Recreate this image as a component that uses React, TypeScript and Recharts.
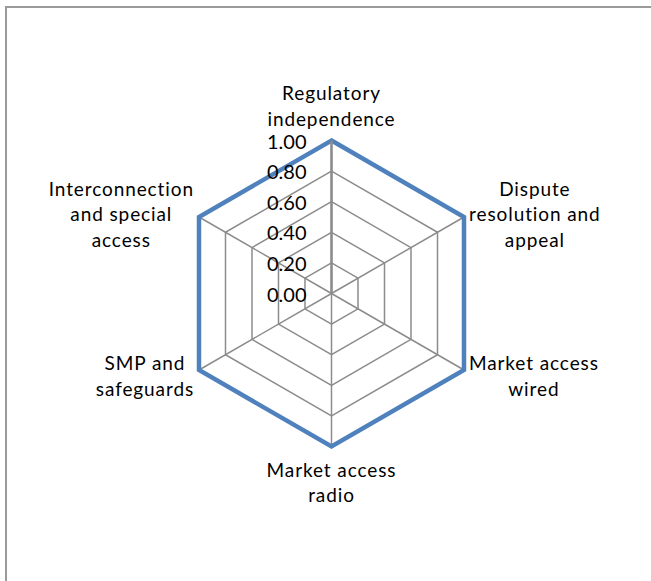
import { RadarChart, Radar, PolarGrid, PolarAngleAxis, PolarRadiusAxis } from "recharts"

// axis categories, line breaks as in the original
const categories = [
  "Regulatory\nindependence",
  "Dispute\nresolution and\nappeal",
  "Market access\nwired",
  "Market access\nradio",
  "SMP and\nsafeguards",
  "Interconnection\nand special\naccess",
]
const scores = [1, 1, 1, 1, 1, 1]
const radiusTicks = [0, 0.2, 0.4, 0.6, 0.8, 1]

const data = categories.map((name, i) => ({ name, value: scores[i] }))

const CX = 331.5
const CY = 293.5
const FONT = "Lato, 'Open Sans', sans-serif"
const SIZE = 19
const SPACING = 0.9
const LINE = 25.5

let ctx: CanvasRenderingContext2D | null = null
function textWidth(s: string) {
  if (!ctx) ctx = document.createElement("canvas").getContext("2d")
  if (!ctx) return s.length * 10.5
  ctx.font = `${SIZE}px ${FONT}`
  return ctx.measureText(s).width + s.length * SPACING
}

function AngleTick(props: any) {
  const { x, y, payload } = props
  const lines: string[] = String(payload.value).split("\n")
  const dx = x - CX
  const dy = y - CY
  let cx = x
  let firstY = y
  if (Math.abs(dx) < 2) {
    // top / bottom labels
    firstY = dy < 0 ? y - 15 - (lines.length - 1) * LINE : y + 14
  } else {
    const w = Math.max(...lines.map(textWidth))
    cx = x + Math.sign(dx) * (w / 2 - 2)
    firstY = y - ((lines.length - 1) * LINE) / 2 + (dy < 0 ? 0 : 1)
  }
  return (
    <text
      x={cx}
      y={firstY}
      textAnchor="middle"
      dominantBaseline="central"
      fontSize={SIZE}
      fontFamily={FONT}
      letterSpacing={SPACING}
      fill="#000"
    >
      {lines.map((l, i) => (
        <tspan key={i} x={cx} y={firstY + i * LINE}>
          {l}
        </tspan>
      ))}
    </text>
  )
}

function RadiusTick(props: any) {
  const { x, y, payload } = props
  return (
    <text x={x - 25} y={y} textAnchor="end" dominantBaseline="central" fontSize={20} fontFamily={FONT} fill="#000">
      {Number(payload.value).toFixed(2)}
    </text>
  )
}

export default function App() {
  return (
    <div style={{ position: "absolute", left: 0, top: 0, width: 651, height: 581, background: "#fff", overflow: "hidden" }}>
      <div
        style={{
          position: "absolute",
          left: 5,
          top: 6,
          width: 660,
          height: 600,
          border: "2px solid #9a9a9a",
        }}
      />
      <div style={{ position: "absolute", left: 0, top: 0 }}>
        <RadarChart width={651} height={581} data={data} cx={CX} cy={CY} outerRadius={153}>
          <PolarGrid gridType="polygon" stroke="#8c8c8c" strokeWidth={1.5} />
          <PolarAngleAxis dataKey="name" tick={AngleTick} tickLine={false} axisLine={false} />
          <Radar
            dataKey="value"
            stroke="#4f81bd"
            strokeWidth={4.5}
            fill="none"
            fillOpacity={0}
            dot={false}
            isAnimationActive={false}
          />
          <PolarRadiusAxis
            angle={90}
            domain={[0, 1]}
            ticks={radiusTicks as any}
            tickCount={6}
            tick={RadiusTick}
            axisLine={{ stroke: "#8c8c8c", strokeWidth: 2.5 }}
            tickLine={false}
          />
        </RadarChart>
      </div>
    </div>
  )
}
